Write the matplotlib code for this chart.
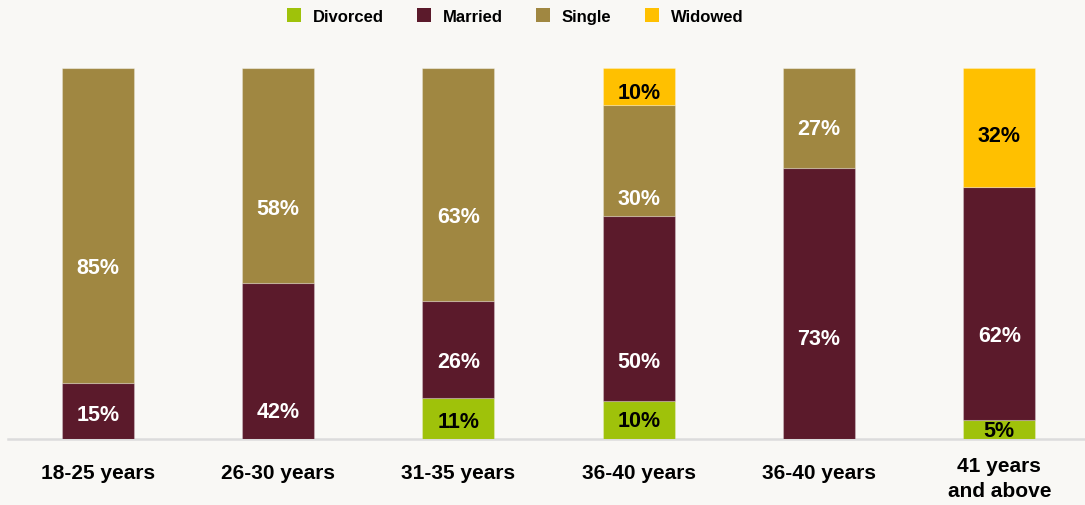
import matplotlib.pyplot as plt
from matplotlib.patches import Patch
from matplotlib.transforms import ScaledTranslation

plt.rcParams['font.family'] = ['Liberation Sans', 'DejaVu Sans']
plt.rcParams['font.weight'] = 'bold'

groups = ['18-25 years', '26-30 years', '31-35 years', '36-40 years',
          '36-40 years', '41 years\nand above']
divorced = [0, 0, 11, 10, 0, 5]
married = [15, 42, 26, 50, 73, 62]
single = [85, 58, 63, 30, 27, 0]
widowed = [0, 0, 0, 10, 0, 32]

series = [('Divorced', divorced, '#9fc20a', 'black'),
          ('Married', married, '#5b1a2b', 'white'),
          ('Single', single, '#a08741', 'white'),
          ('Widowed', widowed, '#ffc000', 'black')]

# where the labels sit in each bar (percent of bar height), as in the original
label_pos = {
    'Divorced': [None, None, 5.0, 5.3, None, 2.6],
    'Married': [6.9, 7.7, 21.2, 21.2, 27.4, 28.4],
    'Single': [46.5, 62.4, 60.5, 65.1, 84.0, None],
    'Widowed': [None, None, None, 93.7, None, 82.3],
}

bg = '#f9f8f5'
fig = plt.figure(figsize=(10.85, 5.06), dpi=100, facecolor=bg)
ax = fig.add_axes([0, 66.5 / 506, 1, 371 / 506])
ax.set_facecolor(bg)

# text bbox centre sits a little above the digits' centre
nudge = ScaledTranslation(0, -2 / 100, fig.dpi_scale_trans)

x = list(range(len(groups)))
totals = [sum(v) for v in zip(divorced, married, single, widowed)]
bottom = [0.0] * len(groups)
for name, vals, col, tcol in series:
    share = [v / t * 100 for v, t in zip(vals, totals)]
    ax.bar(x, share, 0.40, bottom=bottom, color=col,
           edgecolor=(1, 1, 1, 0.25), linewidth=0.8, zorder=2)
    for i, v in enumerate(vals):
        if v and label_pos[name][i] is not None:
            ax.text(i, label_pos[name][i], f'{v}%', ha='center', va='center',
                    color=tcol, fontsize=15.5, fontweight='bold', zorder=3,
                    transform=ax.transData + nudge)
    bottom = [b + s for b, s in zip(bottom, share)]

ax.axhline(0, xmin=8 / 1085, xmax=1, color='#dcdcdc', lw=1.8, zorder=1,
           clip_on=False)

ax.set_xlim(-97.8 / 180.3, (1085 - 97.8) / 180.3)
ax.set_ylim(0, 100)
for s in ax.spines.values():
    s.set_visible(False)
ax.set_yticks([])
ax.set_xticks(x)
ax.set_xticklabels(groups, fontsize=15, fontweight='bold', linespacing=1.4)
ax.tick_params(axis='x', length=0, pad=18)
last = ax.get_xticklabels()[-1]
last.set_transform(last.get_transform() +
                   ScaledTranslation(0, 7 / 100, fig.dpi_scale_trans))

handles = [Patch(facecolor=c, label=n) for n, _, c, _ in series]
fig.legend(handles=handles, loc='center', ncol=4,
           bbox_to_anchor=(515 / 1085, 1 - 17 / 506), frameon=False,
           prop={'size': 12, 'weight': 'bold'}, handlelength=0.85,
           handleheight=0.85, handletextpad=0.7, columnspacing=2.0)

fig.savefig('out.png', dpi=100, facecolor=bg)
